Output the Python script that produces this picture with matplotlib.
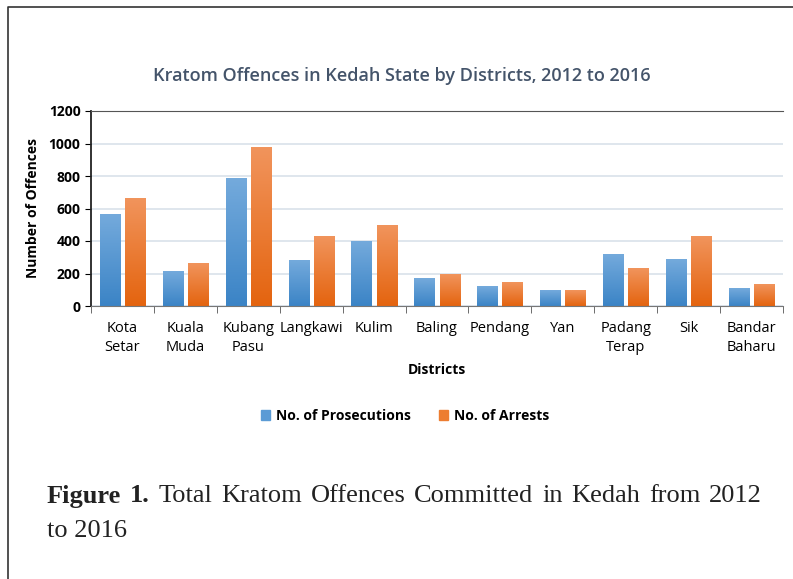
import matplotlib.pyplot as plt
import numpy as np
from matplotlib.lines import Line2D
from matplotlib.patches import Patch
from matplotlib.colors import LinearSegmentedColormap

districts = ['Kota\nSetar', 'Kuala\nMuda', 'Kubang\nPasu', 'Langkawi', 'Kulim', 'Baling',
             'Pendang', 'Yan', 'Padang\nTerap', 'Sik', 'Bandar\nBaharu']
prosecutions = [563, 214, 787, 277, 399, 169, 121, 95, 320, 288, 109]
arrests = [662, 261, 976, 430, 493, 195, 142, 95, 230, 430, 132]

W, H = 793, 579
fig = plt.figure(figsize=(W / 100, H / 100), dpi=100)
sans = ['Open Sans', 'DejaVu Sans']

# frame of the figure box (top and left edges only visible)
fig.add_artist(Line2D([8 / W, 8 / W, 1.0], [0.0, 1 - 7 / H, 1 - 7 / H], transform=fig.transFigure,
                      color='#333333', linewidth=1.2))

ax = fig.add_axes([91 / W, 1 - 306 / H, (783 - 91) / W, (306 - 111) / H])
x = np.arange(len(districts))
bw = 0.32

blue_cm = LinearSegmentedColormap.from_list('b', ['#3B84C6', '#74AADC'])
orange_cm = LinearSegmentedColormap.from_list('o', ['#E4640F', '#F1945C'])
grad = np.linspace(0, 1, 100).reshape(-1, 1)

for vals, off, cm in [(prosecutions, -bw / 2 - 0.04, blue_cm), (arrests, bw / 2 + 0.04, orange_cm)]:
    bars = ax.bar(x + off, vals, width=bw, color='none')
    for b in bars:
        x0, y0 = b.get_x(), b.get_y()
        ax.imshow(grad, extent=[x0, x0 + b.get_width(), y0, y0 + b.get_height()],
                  origin='lower', aspect='auto', cmap=cm, zorder=2)

ax.set_xlim(-0.5, len(districts) - 0.5)
ax.set_ylim(0, 1200)
ax.set_yticks(range(0, 1201, 200))
ax.yaxis.grid(True, color='#D9E1EA', linewidth=1.2)
ax.set_axisbelow(True)
ax.spines['right'].set_visible(False)
ax.spines['top'].set_color('#555555')
ax.spines['left'].set_color('#222222')
ax.spines['bottom'].set_color('#777777')
ax.spines['left'].set_linewidth(1.3)

ax.set_xticks(x)
ax.set_xticklabels(districts, fontsize=10.5, family=sans, linespacing=1.3)
ax.set_xticks(np.arange(-0.5, len(districts), 1), minor=True)
ax.tick_params(axis='x', which='major', length=0, pad=11)
ax.tick_params(axis='x', which='minor', length=5, color='#555555')
ax.tick_params(axis='y', length=4, labelsize=10)
for lab in ax.get_yticklabels():
    lab.set_fontweight('bold')
    lab.set_family(sans)

ax.set_ylabel('Number of Offences', fontsize=10, fontweight='bold', family=sans, labelpad=6)
ax.set_xlabel('Districts', fontsize=10, fontweight='bold', family=sans, labelpad=6)
fig.text(402 / W, 1 - 76 / H, 'Kratom Offences in Kedah State by Districts, 2012 to 2016',
         fontsize=13, color='#44546A', family=sans, fontweight='semibold', ha='center', va='center')

handles = [Patch(color='#5B9BD5', label='No. of Prosecutions'),
           Patch(color='#ED7D31', label='No. of Arrests')]
fig.legend(handles=handles, loc='center', bbox_to_anchor=(405 / W, 1 - 416 / H), ncol=2,
           frameon=False, prop={'family': sans, 'weight': 'bold', 'size': 10}, handlelength=0.7,
           handleheight=0.7, handletextpad=0.4, columnspacing=2.0)

# caption, first line justified between x=47 and x=762
renderer = fig.canvas.get_renderer()
words = [('Figure', 'bold'), ('1.', 'bold'), ('Total', 'normal'), ('Kratom', 'normal'),
         ('Offences', 'normal'), ('Committed', 'normal'), ('in', 'normal'), ('Kedah', 'normal'),
         ('from', 'normal'), ('2012', 'normal')]
arts = [fig.text(0, 1 - 496 / H, w, fontsize=19, family='Liberation Serif', fontweight=wt,
                 color='#222222', va='center', ha='left') for w, wt in words]
widths = [a.get_window_extent(renderer).width for a in arts]
gap = (762 - 47 - sum(widths)) / (len(words) - 1)
xpos = 47
for a, wd in zip(arts, widths):
    a.set_x(xpos / W)
    xpos += wd + gap
fig.text(47 / W, 1 - 531 / H, 'to 2016', fontsize=19, family='Liberation Serif',
         color='#222222', va='center', ha='left')

fig.savefig('out.png', dpi=100)
